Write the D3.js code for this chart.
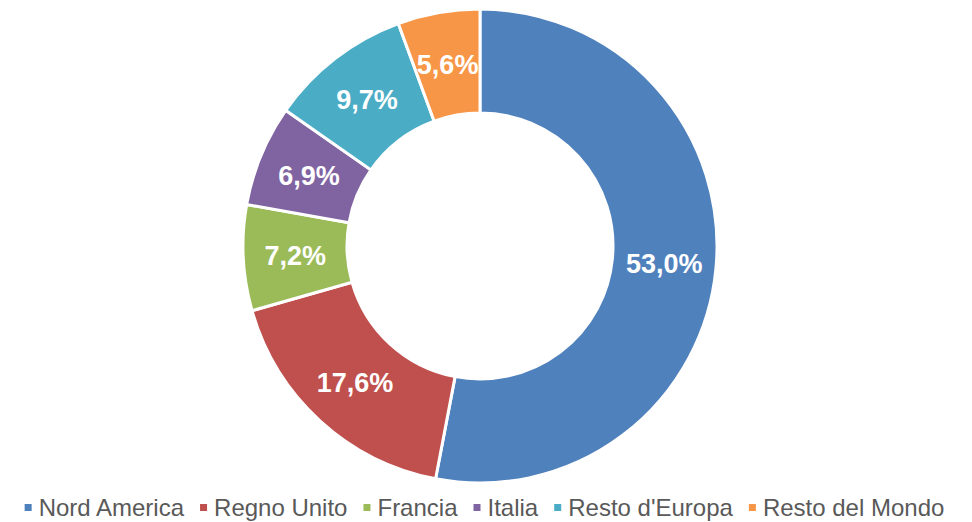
<!DOCTYPE html>
<html lang="it">
<head>
<meta charset="UTF-8">
<title>Ripartizione per area geografica</title>
<script src="https://d3js.org/d3.v7.min.js"></script>
<style>
    body { margin: 0; background: #fff; }
    svg { display: block; font-family: Arial, "Liberation Sans", sans-serif; }
    .slice-label { fill: #fff; font-weight: bold; font-size: 27px; }
    .legend-text { fill: #595959; font-size: 24px; }
</style>
</head>
<body>
<div id="chart"></div>
<script>
// data
const categories = ["Nord America", "Regno Unito", "Francia", "Italia", "Resto d'Europa", "Resto del Mondo"];
const shares = [53.0, 17.6, 7.2, 6.9, 9.7, 5.6];
const colors = ["#4F81BD", "#C0504D", "#9BBB59", "#8064A2", "#4BACC6", "#F79646"];

const width = 972, height = 522;
const cx = 480, cy = 246;
const outerR = 237, innerR = 133;

const svg = d3.select("#chart").append("svg")
    .attr("width", width)
    .attr("height", height);

const data = categories.map((c, i) => ({ name: c, value: shares[i], color: colors[i] }));

const pie = d3.pie().sort(null).value(d => d.value);
const arc = d3.arc().innerRadius(innerR).outerRadius(outerR);
const labelArc = d3.arc().innerRadius((innerR + outerR) / 2).outerRadius((innerR + outerR) / 2);

const g = svg.append("g").attr("transform", `translate(${cx},${cy})`);

const arcs = pie(data);

g.selectAll("path.slice")
    .data(arcs)
    .join("path")
    .attr("class", "slice")
    .attr("d", arc)
    .attr("fill", d => d.data.color)
    .attr("stroke", "#fff")
    .attr("stroke-width", 3)
    .attr("stroke-linejoin", "miter");

const fmt = v => v.toFixed(1).replace(".", ",") + "%";

g.selectAll("text.slice-label")
    .data(arcs)
    .join("text")
    .attr("class", "slice-label")
    .attr("transform", d => `translate(${labelArc.centroid(d)})`)
    .attr("text-anchor", "middle")
    .attr("dy", "0.36em")
    .text(d => fmt(d.data.value));

// legend - measure texts then lay out in a row
const legend = svg.append("g");
const sq = 7, sqGap = 7, itemGap = 16;
const legendY = 516;

const items = legend.selectAll("g.item")
    .data(data)
    .join("g")
    .attr("class", "item");

items.append("rect")
    .attr("width", sq)
    .attr("height", sq)
    .attr("y", legendY - 12)
    .attr("fill", d => d.color);

items.append("text")
    .attr("class", "legend-text")
    .attr("x", sq + sqGap)
    .attr("y", legendY)
    .text(d => d.name);

let widths = [];
items.each(function() {
    widths.push(d3.select(this).select("text").node().getComputedTextLength());
});
const total = d3.sum(widths) + data.length * (sq + sqGap) + (data.length - 1) * itemGap;
let x = 24 + (921 - total) / 2;
items.attr("transform", (d, i) => {
    const t = `translate(${x},0)`;
    x += sq + sqGap + widths[i] + itemGap;
    return t;
});
</script>
</body>
</html>
